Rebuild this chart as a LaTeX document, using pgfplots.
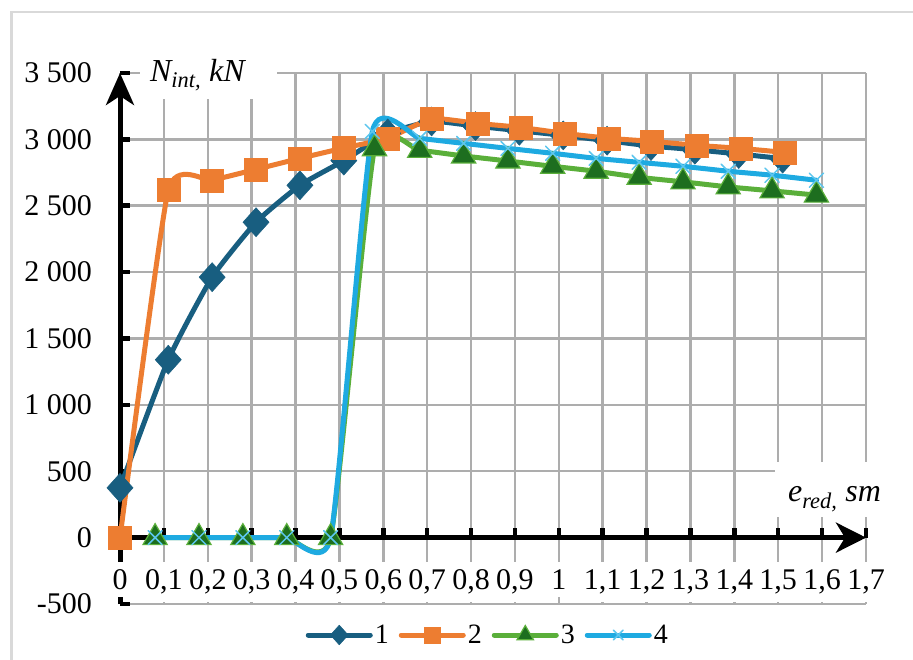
\documentclass[border=0pt]{standalone}
\usepackage{pgfplots}
\pgfplotsset{compat=1.18}
\usepackage{fontspec}
\setmainfont{Liberation Serif}
\usetikzlibrary{arrows.meta}
\definecolor{cA}{HTML}{185E80}
\definecolor{cB}{HTML}{ED7D31}
\definecolor{cC}{HTML}{5AAF3A}
\definecolor{cCm}{HTML}{1D6E1F}
\definecolor{cD}{HTML}{1EAAE1}
\definecolor{cDm}{HTML}{5CC6EE}
\definecolor{gridc}{HTML}{ADADAD}
\definecolor{framec}{HTML}{D9D9D9}

\pgfplotstableread{
x y
0 375
0.11 1340
0.21 1962
0.31 2376
0.41 2654
0.51 2840
0.61 3045
0.71 3135
0.81 3100
0.91 3065
1.01 3030
1.11 2990
1.21 2950
1.31 2922
1.41 2890
1.51 2855
}\sA
\pgfplotstableread{
x y
0 0
0.11 2617
0.21 2692
0.31 2774
0.41 2857
0.51 2935
0.61 3008
0.71 3155
0.815 3120
0.913 3090
1.014 3045
1.114 3008
1.212 2985
1.315 2955
1.415 2932
1.514 2902
}\sB
\pgfplotstableread{
x y
0.08 0
0.18 0
0.28 0
0.38 0
0.48 0
0.58 2930
0.683 2917
0.783 2875
0.884 2837
0.986 2797
1.085 2760
1.183 2714
1.283 2680
1.386 2642
1.486 2612
1.587 2580
}\sC
\pgfplotstableread{
x y
0.08 0
0.18 0
0.28 0
0.38 0
0.48 0
0.575 3060
0.683 3008
0.783 2970
0.884 2932
0.986 2895
1.085 2857
1.183 2827
1.283 2797
1.386 2760
1.486 2730
1.587 2692
}\sD

\begin{document}
\begin{tikzpicture}
\useasboundingbox (0,0) rectangle (913pt,659pt);
\fill[white] (0,0) rectangle (913pt,659pt);
\draw[framec, line width=2.5pt] (11.5pt,-20pt) -- (11.5pt,647pt) -- (940pt,647pt);
\begin{axis}[
  at={(120pt,55pt)}, anchor=south west,
  scale only axis, width=746pt, height=531pt,
  xmin=0, xmax=1.7, ymin=-500, ymax=3500,
  enlargelimits=false, clip=false,
  axis x line=middle, axis y line=left,
  axis line style={line width=5pt, black},
  x axis line style={-{Stealth[length=30pt,width=30pt,inset=9pt]}},
  y axis line style={-{Stealth[length=32pt,width=28pt,inset=9pt]}},
  hide obscured x ticks=false, hide obscured y ticks=false,
  xtick={0,0.1,0.2,0.3,0.4,0.5,0.6,0.7,0.8,0.9,1,1.1,1.2,1.3,1.4,1.5,1.6,1.7},
  xticklabels={0,{0,1},{0,2},{0,3},{0,4},{0,5},{0,6},{0,7},{0,8},{0,9},1,{1,1},{1,2},{1,3},{1,4},{1,5},{1,6},{1,7}},
  ytick={-500,0,500,1000,1500,2000,2500,3000,3500},
  yticklabels={-500,0,500,{1 000},{1 500},{2 000},{2 500},{3 000},{3 500}},
  tick align=inside, major tick length=10pt,
  tick style={black, line width=4.5pt},
  grid=major, grid style={gridc, line width=2.5pt},
  xticklabel style={font=\fontsize{30}{36}\selectfont, fill=white, inner xsep=1pt, inner ysep=7.5pt, anchor=base, yshift=-52pt},
  yticklabel style={font=\fontsize{30}{36}\selectfont, anchor=east, inner sep=0pt, xshift=-28pt},
  legend style={at={(0.493,-0.0584)}, anchor=center, draw=none, fill=none,
    font=\fontsize{28}{32}\selectfont, inner sep=0pt,
    /tikz/every even column/.append style={column sep=8pt}},
  legend columns=4,
  legend image code/.code={\draw[mark repeat=2,mark phase=2,#1, every mark/.append style={scale=0.68}] plot coordinates {(0pt,0pt) (31pt,0pt) (62pt,0pt)};},
]
\addplot[cA, line width=5pt, line cap=round, smooth, tension=0.3, mark=diamond*, mark size=14.5pt,
  mark options={solid, fill=cA, draw=cA, line width=0.5pt, xscale=1.2}] table {\sA};
\addplot[cB, line width=5pt, line cap=round, smooth, tension=0.3, mark=square*, mark size=11.5pt,
  mark options={solid, fill=cB, draw=cB, line width=0.5pt}] table {\sB};
\addplot[cC, line width=5pt, line cap=round, smooth, tension=0.3, mark=triangle*, mark size=14pt,
  mark options={solid, fill=cCm, draw=cC, line width=1.2pt}] table {\sC};
\addplot[cD, line width=5pt, line cap=round, smooth, tension=0.3, mark=x, mark size=10pt,
  mark options={solid, draw=cDm, line width=1.5pt}] table {\sD};
\legend{1,2,3,4}
\fill[white] (axis cs:0.0456,3307) rectangle (axis cs:0.358,3616);
\node[anchor=base west, inner sep=0pt, font=\fontsize{32}{38}\selectfont\itshape] at (axis cs:0.068,3435) {N\textsubscript{int,} kN};
\fill[white] (axis cs:1.4927,158) rectangle (axis cs:1.789,572);
\node[anchor=base west, inner sep=0pt, font=\fontsize{32}{38}\selectfont\itshape] at (axis cs:1.522,271) {e\textsubscript{red,} sm};
\end{axis}
\end{tikzpicture}
\end{document}
